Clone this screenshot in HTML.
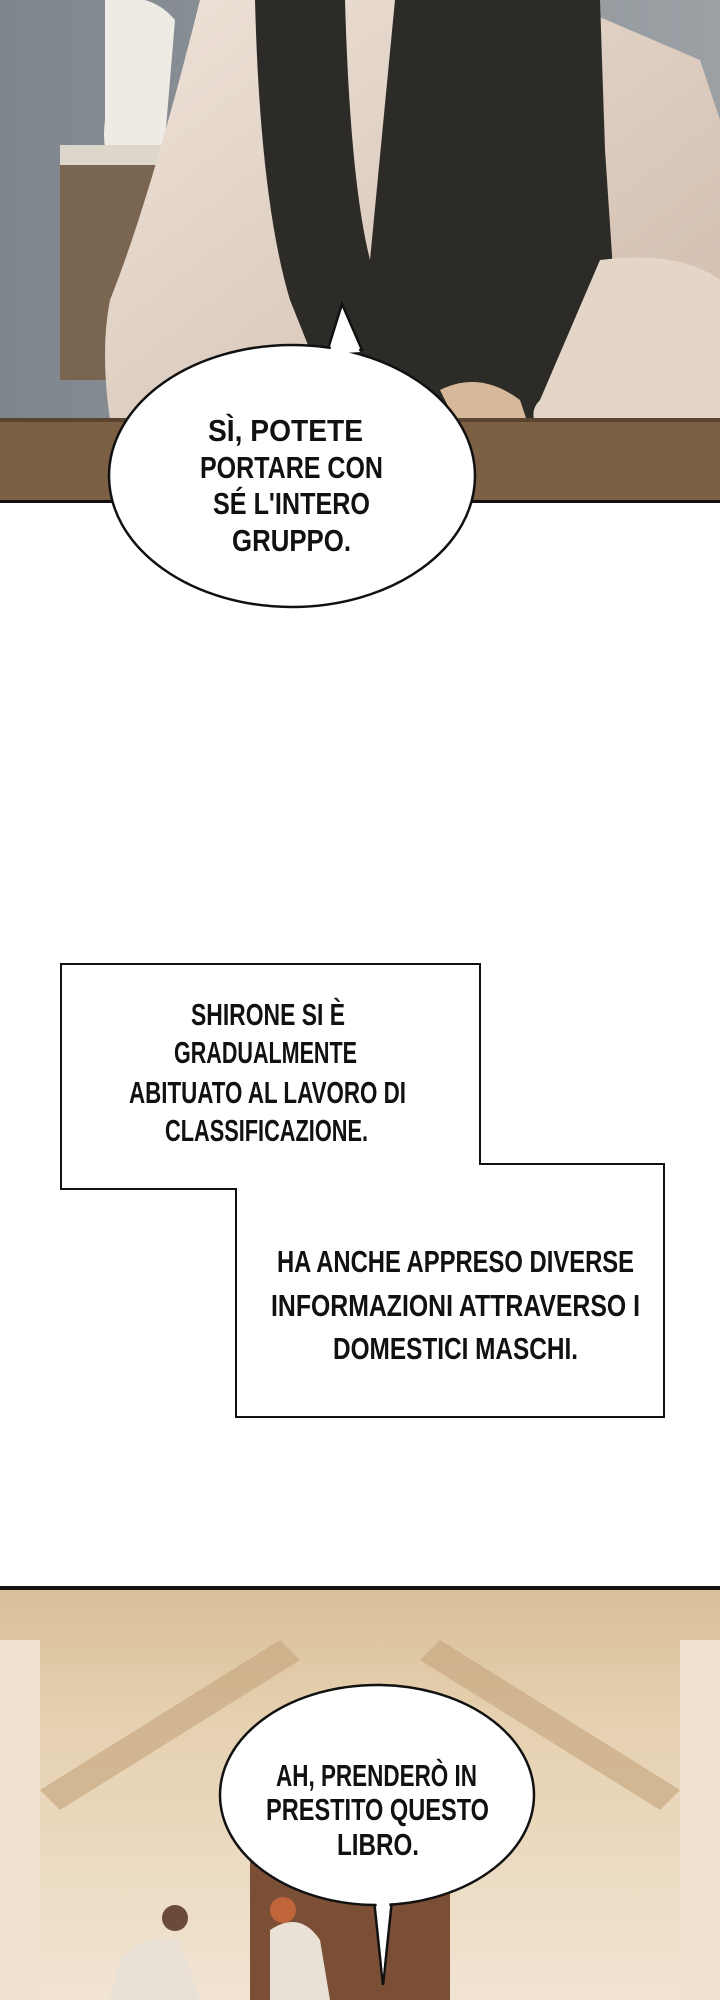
<!DOCTYPE html>
<html><head><meta charset="utf-8"><style>
html,body{margin:0;padding:0;background:#fff;}
svg{display:block;}
text{font-family:"Liberation Sans Narrow","Liberation Sans",sans-serif;font-size:31px;font-weight:bold;fill:#111;}
</style></head><body>
<svg width="720" height="2000" viewBox="0 0 720 2000" xmlns="http://www.w3.org/2000/svg">
<defs>
<linearGradient id="wall" x1="0" y1="0" x2="1" y2="0"><stop offset="0" stop-color="#7f868d"/><stop offset="1" stop-color="#9aa0a4"/></linearGradient>
<linearGradient id="hall" x1="0" y1="0" x2="0" y2="1"><stop offset="0" stop-color="#d9bf98"/><stop offset="0.35" stop-color="#e6d2b2"/><stop offset="1" stop-color="#f1e4d2"/></linearGradient>
<linearGradient id="shirt" x1="0" y1="0" x2="1" y2="1"><stop offset="0" stop-color="#eee2d8"/><stop offset="1" stop-color="#cdb8a8"/></linearGradient>
</defs>
<rect x="0" y="0" width="720" height="502" fill="url(#wall)"/>
<path d="M105 0 Q150 -10 175 20 L165 140 Q140 175 120 170 Q100 160 105 120 Z" fill="#eeeae4"/>
<rect x="60" y="150" width="110" height="230" fill="#7a6650"/>
<rect x="60" y="145" width="120" height="20" fill="#ddd6cb"/>
<path d="M105 0 L560 0 L700 60 L720 120 L720 440 L540 470 L480 430 L300 440 L110 420 Q100 350 110 300 Q150 200 200 0 Z" fill="url(#shirt)"/>
<path d="M255 0 L345 0 Q350 180 370 260 L395 0 L470 0 L600 0 L605 150 L615 300 L600 420 L540 430 L400 420 L330 400 L290 300 Q260 200 255 0 Z" fill="#2c2b27"/>
<path d="M600 260 Q680 250 720 280 L720 420 L560 450 Q520 420 540 400 Z" fill="#e5d5c8"/>
<path d="M440 390 Q480 370 520 400 L540 460 L480 470 Z" fill="#d8b89a"/>
<rect x="0" y="420" width="720" height="82" fill="#7c6044"/>
<rect x="0" y="418" width="720" height="4" fill="#5a4430"/>
<rect x="0" y="500" width="720" height="3" fill="#111"/>
<path d="M327 352 L342 304 L362 350 Z" fill="#fff" stroke="#111" stroke-width="2.5"/>
<ellipse cx="292" cy="476" rx="183" ry="131" fill="#fff" stroke="#111" stroke-width="2.5"/>
<path d="M329 354 L342 310 L360 352 Z" fill="#fff"/>
<text x="208" y="441" textLength="155" lengthAdjust="spacingAndGlyphs">SÌ, POTETE</text>
<text x="200" y="478" textLength="183" lengthAdjust="spacingAndGlyphs">PORTARE CON</text>
<text x="213" y="514" textLength="157" lengthAdjust="spacingAndGlyphs">SÉ L'INTERO</text>
<text x="232" y="551" textLength="119" lengthAdjust="spacingAndGlyphs">GRUPPO.</text>
<path d="M61 964 L480 964 L480 1164 L664 1164 L664 1417 L236 1417 L236 1189 L61 1189 Z" fill="#fff" stroke="#111" stroke-width="2"/>
<text x="191" y="1025" textLength="154" lengthAdjust="spacingAndGlyphs">SHIRONE SI È</text>
<text x="174" y="1063" textLength="183" lengthAdjust="spacingAndGlyphs">GRADUALMENTE</text>
<text x="129" y="1103" textLength="277" lengthAdjust="spacingAndGlyphs">ABITUATO AL LAVORO DI</text>
<text x="165" y="1141" textLength="203" lengthAdjust="spacingAndGlyphs">CLASSIFICAZIONE.</text>
<text x="277" y="1272" textLength="357" lengthAdjust="spacingAndGlyphs">HA ANCHE APPRESO DIVERSE</text>
<text x="271" y="1316" textLength="369" lengthAdjust="spacingAndGlyphs">INFORMAZIONI ATTRAVERSO I</text>
<text x="333" y="1359" textLength="245" lengthAdjust="spacingAndGlyphs">DOMESTICI MASCHI.</text>
<rect x="0" y="1588" width="720" height="412" fill="url(#hall)"/>
<path d="M40 1790 L280 1640 L300 1660 L60 1810 Z" fill="#c9a983" opacity="0.7"/>
<path d="M680 1790 L440 1640 L420 1660 L660 1810 Z" fill="#c9a983" opacity="0.7"/>
<rect x="0" y="1640" width="40" height="360" fill="#efe2cf"/>
<rect x="680" y="1640" width="40" height="360" fill="#efe2cf"/>
<rect x="250" y="1850" width="200" height="150" fill="#7b4e36"/>
<path d="M120 1960 Q150 1930 180 1940 L200 2000 L110 2000 Z" fill="#e9e0d6"/>
<path d="M270 1930 Q300 1910 320 1940 L330 2000 L270 2000 Z" fill="#e9e0d6"/>
<circle cx="175" cy="1918" r="13" fill="#6a4a3a"/>
<circle cx="283" cy="1910" r="13" fill="#c0643a"/>
<rect x="0" y="1586" width="720" height="4" fill="#111"/>
<path d="M374 1900 L383 1985 L392 1900 Z" fill="#fff" stroke="#111" stroke-width="2.5"/>
<ellipse cx="377" cy="1795" rx="157" ry="110" fill="#fff" stroke="#111" stroke-width="2.5"/>
<path d="M376 1898 L383 1975 L390 1898 Z" fill="#fff"/>
<text x="276" y="1786" textLength="201" lengthAdjust="spacingAndGlyphs">AH, PRENDERÒ IN</text>
<text x="266" y="1820" textLength="223" lengthAdjust="spacingAndGlyphs">PRESTITO QUESTO</text>
<text x="337" y="1855" textLength="82" lengthAdjust="spacingAndGlyphs">LIBRO.</text>
</svg>
</body></html>
